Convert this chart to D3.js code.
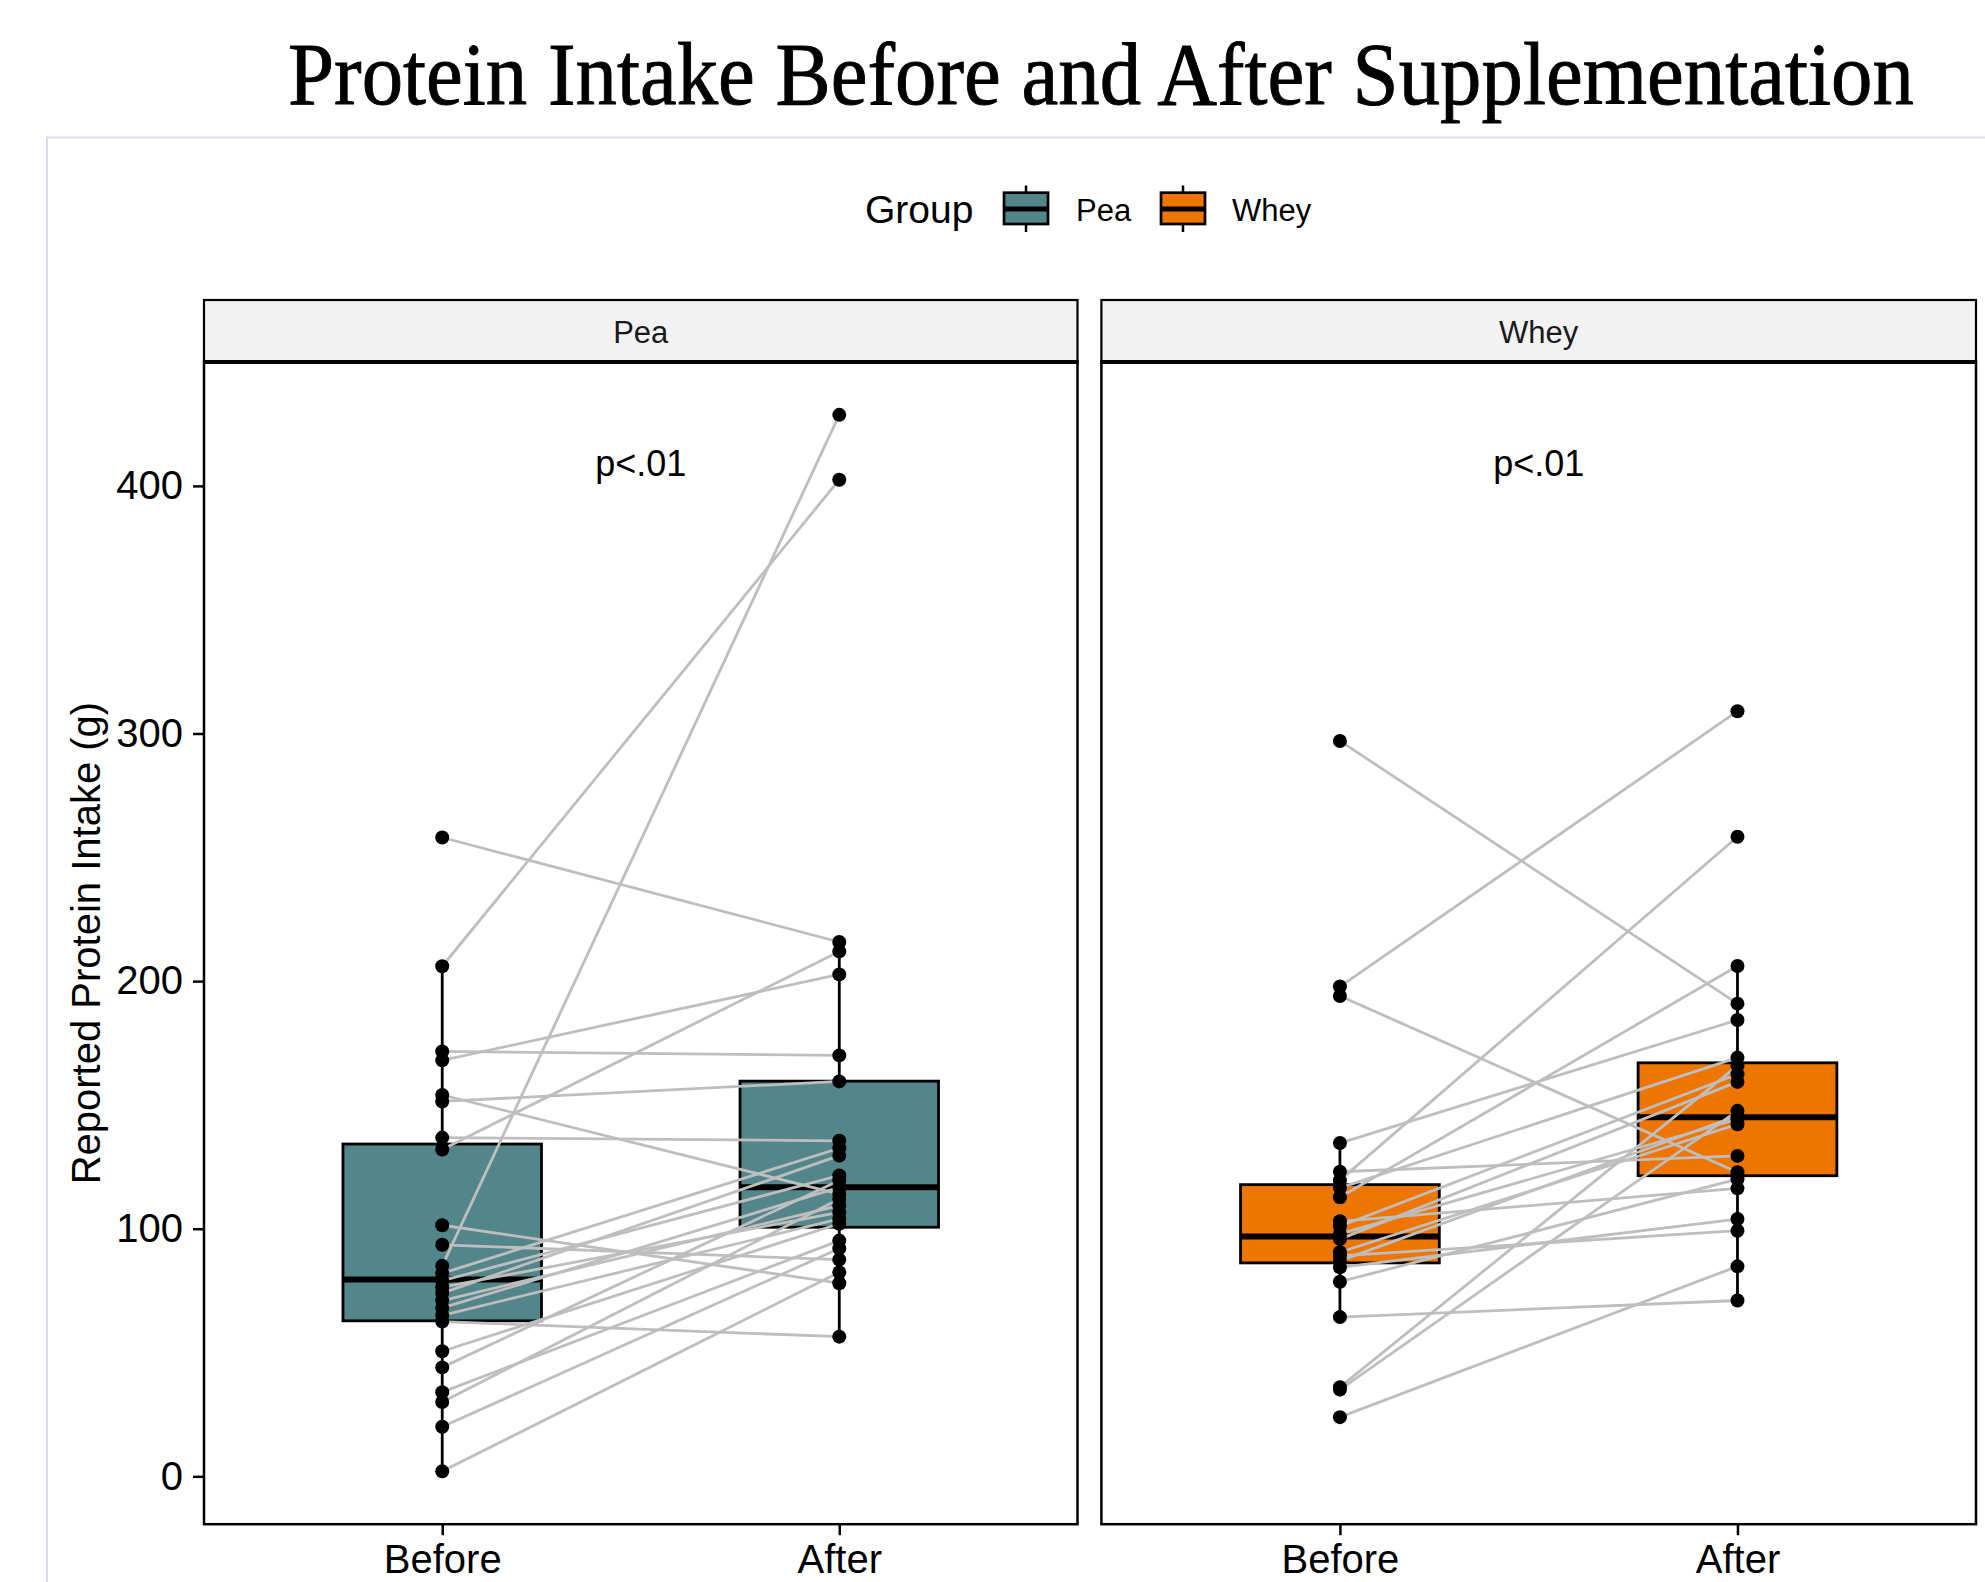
<!DOCTYPE html>
<html><head><meta charset="utf-8">
<script src="https://cdn.jsdelivr.net/npm/d3@7"></script>
<style>body{margin:0;background:#fff;} svg{display:block}</style>
</head><body>
<svg id="chart" width="1985" height="1582"></svg>
<script>
const categories = ["Before", "After"];
const groups = ["Pea", "Whey"];
const groupColors = ["#53868B", "#EE7600"];
const yTicks = [0, 100, 200, 300, 400];
const peaBefore = [258, 206, 171.6, 168, 154, 151.4, 136.8, 132, 101.4, 93.5, 85, 82, 79, 76.4, 74, 71, 68, 65, 62.5, 50.5, 44, 34, 30, 20, 2];
const peaAfter  = [215.8, 402.5, 170, 202.7, 114, 159.5, 135.5, 212, 78, 87.5, 428.7, 132.5, 121.5, 106.6, 129.5, 109.3, 116.7, 104, 56.4, 102, 119.5, 95.2, 112, 92, 82.4];
const wheyBefore = [297, 197.8, 194, 119.5, 112.7, 134.6, 36, 23.9, 64.3, 89, 84.4, 103, 35, 123, 116.5, 101, 97.9, 95.8, 90.5, 87, 78.6];
const wheyAfter  = [190.9, 309, 122.8, 258.3, 206.1, 184.3, 165.8, 84.8, 71, 99.2, 103.9, 116.3, 147.6, 129.4, 169.1, 162.4, 144.2, 159.3, 142.2, 145.6, 120];
// box stats: [lower whisker, Q1, median, Q3, upper whisker]
const peaBeforeBox  = [2, 62.8, 79.5, 134.2, 206];
const peaAfterBox   = [56.4, 100.6, 116.7, 159.6, 215.8];
const wheyBeforeBox = [64.3, 86.2, 96.9, 117.8, 134.6];
const wheyAfterBox  = [71, 121.4, 145, 167, 206.1];
const pLabels = ["p<.01", "p<.01"];
const titleText = "Protein Intake Before and After Supplementation";
const yTitle = "Reported Protein Intake (g)";
const legendTitle = "Group";

const panelsData = [
  {name: groups[0], color: groupColors[0], before: peaBefore, after: peaAfter, boxes: [peaBeforeBox, peaAfterBox], p: pLabels[0]},
  {name: groups[1], color: groupColors[1], before: wheyBefore, after: wheyAfter, boxes: [wheyBeforeBox, wheyAfterBox], p: pLabels[1]}
];

const svg = d3.select("#chart");
const FONT = "'Liberation Sans', Arial, Helvetica, sans-serif";

// outer light frame
svg.append("path").attr("d", "M47,1582 L47,137.5 L1985,137.5")
  .attr("fill", "none").attr("stroke", "#dadaf3").attr("stroke-width", 2);

// title (horizontally condensed to the reference width)
const titleG = svg.append("g");
const title = titleG.append("text").attr("x", 0).attr("y", 0)
  .attr("font-family", "'Liberation Serif', 'Times New Roman', serif")
  .attr("font-size", 88).attr("fill", "#000").attr("stroke", "#000").attr("stroke-width", 0.9).text(titleText);
const natW = title.node().getComputedTextLength();
const sx = 1626 / natW;
titleG.attr("transform", `translate(288,104) scale(${sx},1)`);

// scales
const allVals = [].concat(peaBefore, peaAfter, wheyBefore, wheyAfter);
const vmin = d3.min(allVals), vmax = d3.max(allVals), span = vmax - vmin;
const panelTop = 362, panelBottom = 1524.2;
const y = d3.scaleLinear().domain([vmin - 0.05 * span, vmax + 0.05 * span]).range([panelBottom, panelTop]);
const panelX = [[204, 1077.5], [1101.4, 1976]];

panelsData.forEach((pd, i) => {
  const [x0, x1] = panelX[i];
  const x = d3.scalePoint().domain(categories).range([x0, x1]).padding(0.6);
  const bw = x.step() * 0.5;
  const g = svg.append("g");

  // strip
  g.append("rect").attr("x", x0).attr("y", 300).attr("width", x1 - x0).attr("height", panelTop - 300)
    .attr("fill", "#f2f2f2").attr("stroke", "#000").attr("stroke-width", 2.2);
  g.append("text").attr("x", (x0 + x1) / 2).attr("y", 342.5).attr("text-anchor", "middle")
    .attr("font-family", FONT).attr("font-size", 31).attr("fill", "#1a1a1a").text(pd.name);

  // panel background
  g.append("rect").attr("x", x0).attr("y", panelTop).attr("width", x1 - x0).attr("height", panelBottom - panelTop)
    .attr("fill", "#fff");

  // boxplots
  pd.boxes.forEach((b, j) => {
    const cx = x(categories[j]);
    const bg = g.append("g");
    bg.append("line").attr("x1", cx).attr("x2", cx).attr("y1", y(b[0])).attr("y2", y(b[1]))
      .attr("stroke", "#000").attr("stroke-width", 2.8);
    bg.append("line").attr("x1", cx).attr("x2", cx).attr("y1", y(b[3])).attr("y2", y(b[4]))
      .attr("stroke", "#000").attr("stroke-width", 2.8);
    bg.append("rect").attr("x", cx - bw / 2).attr("y", y(b[3])).attr("width", bw).attr("height", y(b[1]) - y(b[3]))
      .attr("fill", pd.color).attr("stroke", "#000").attr("stroke-width", 2.8);
    bg.append("line").attr("x1", cx - bw / 2).attr("x2", cx + bw / 2).attr("y1", y(b[2])).attr("y2", y(b[2]))
      .attr("stroke", "#000").attr("stroke-width", 6);
  });

  // paired lines
  const pairs = pd.before.map((v, k) => [v, pd.after[k]]);
  g.append("g").selectAll("line").data(pairs).join("line")
    .attr("x1", x(categories[0])).attr("x2", x(categories[1]))
    .attr("y1", d => y(d[0])).attr("y2", d => y(d[1]))
    .attr("stroke", "#bebebe").attr("stroke-width", 2.8);

  // points
  const pts = [].concat(pd.before.map(v => [categories[0], v]), pd.after.map(v => [categories[1], v]));
  g.append("g").selectAll("circle").data(pts).join("circle")
    .attr("cx", d => x(d[0])).attr("cy", d => y(d[1])).attr("r", 7).attr("fill", "#000");

  // p label
  g.append("text").attr("x", (x0 + x1) / 2).attr("y", y(404)).attr("text-anchor", "middle")
    .attr("font-family", FONT).attr("font-size", 36).attr("fill", "#000").text(pd.p);

  // panel border
  g.append("rect").attr("x", x0).attr("y", panelTop).attr("width", x1 - x0).attr("height", panelBottom - panelTop)
    .attr("fill", "none").attr("stroke", "#000").attr("stroke-width", 2.5);
  g.append("line").attr("x1", x0 - 1).attr("x2", x1 + 1).attr("y1", panelTop).attr("y2", panelTop)
    .attr("stroke", "#000").attr("stroke-width", 4);

  // x axis
  const xAxis = d3.axisBottom(x).tickSize(11).tickPadding(9);
  const xa = g.append("g").attr("transform", `translate(0,${panelBottom})`).call(xAxis);
  xa.select(".domain").remove();
  xa.selectAll(".tick line").attr("stroke", "#000").attr("stroke-width", 2.5);
  xa.selectAll(".tick text").attr("font-family", FONT).attr("font-size", 40).attr("fill", "#000").attr("dy", "0.72em");

  if (i === 0) {
    const yAxis = d3.axisLeft(y).tickValues(yTicks).tickSize(11).tickPadding(10);
    const ya = g.append("g").attr("transform", `translate(${x0},0)`).call(yAxis);
    ya.select(".domain").remove();
    ya.selectAll(".tick line").attr("stroke", "#000").attr("stroke-width", 2.5);
    ya.selectAll(".tick text").attr("font-family", FONT).attr("font-size", 40).attr("fill", "#000");
  }
});

// y title
svg.append("text").attr("transform", `translate(100,${(panelTop + panelBottom) / 2}) rotate(-90)`)
  .attr("text-anchor", "middle").attr("font-family", FONT).attr("font-size", 40).attr("fill", "#000").text(yTitle);

// legend
const lg = svg.append("g");
lg.append("text").attr("x", 865).attr("y", 222.5).attr("font-family", FONT).attr("font-size", 39).attr("fill", "#000").text(legendTitle);
const keyX = [1004, 1161], labX = [1076, 1232];
groups.forEach((gname, i) => {
  const kx = keyX[i], cx = kx + 22;
  lg.append("line").attr("x1", cx).attr("x2", cx).attr("y1", 185.5).attr("y2", 232).attr("stroke", "#000").attr("stroke-width", 2.5);
  lg.append("rect").attr("x", kx).attr("y", 192.7).attr("width", 44).attr("height", 31.3)
    .attr("fill", groupColors[i]).attr("stroke", "#000").attr("stroke-width", 2.7);
  lg.append("line").attr("x1", kx).attr("x2", kx + 44).attr("y1", 209).attr("y2", 209).attr("stroke", "#000").attr("stroke-width", 5);
  lg.append("text").attr("x", labX[i]).attr("y", 220.7).attr("font-family", FONT).attr("font-size", 31).attr("fill", "#000").text(gname);
});
</script>
</body></html>
